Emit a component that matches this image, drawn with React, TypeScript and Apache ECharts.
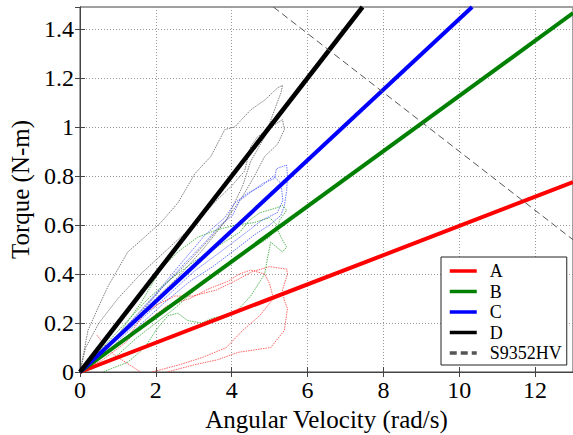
import React, { useEffect, useRef } from "react";
import * as echarts from "echarts";

// Axis settings
const xMin = 0;
const xMax = 13;
const xInterval = 2;
const yMin = 0;
const yMax = 1.49;
const yInterval = 0.2;

const legendNames = ["A", "B", "C", "D", "S9352HV"];

// Fitted lines
const lineA = [[0, 0], [13, 0.775]];
const lineB = [[0, 0], [13, 1.465]];
const lineC = [[0, 0], [10.34, 1.49]];
const lineD = [[0, 0], [7.45, 1.49]];
const lineServo = [[5.1, 1.49], [13, 0.54]];

// Measured (dotted) hysteresis traces
const loopD1 = [
  [0, 0], [0.1, 0.08], [0.21, 0.17], [0.5, 0.27], [0.74, 0.35], [1.0, 0.42], [1.26, 0.49],
  [1.7, 0.55], [2.13, 0.61], [2.58, 0.69], [3.03, 0.81], [3.45, 0.88], [3.82, 0.99],
  [4.08, 1.0], [4.5, 1.07], [4.87, 1.11], [5.21, 1.16], [5.34, 1.17], [5.3, 1.14], [5.2, 1.1],
  [4.87, 0.96], [4.5, 0.86], [4.29, 0.76], [3.86, 0.62], [3.24, 0.5], [2.6, 0.39], [2.0, 0.3],
  [1.4, 0.2], [0.8, 0.11], [0.3, 0.04], [0, 0],
];
const loopD2 = [
  [0, 0], [0.15, 0.1], [0.5, 0.2], [1.0, 0.3], [1.6, 0.4], [2.3, 0.5], [3.0, 0.6], [3.6, 0.7],
  [4.0, 0.76], [4.34, 0.82], [4.5, 0.92], [4.68, 0.96], [5.13, 1.01], [5.34, 1.03], [5.39, 0.99],
  [5.21, 0.93], [4.87, 0.88], [4.6, 0.8], [4.3, 0.72], [3.9, 0.63], [3.4, 0.54], [2.8, 0.44],
  [2.2, 0.35], [1.5, 0.23], [0.8, 0.12], [0, 0],
];
const loopC1 = [
  [0, 0], [0.5, 0.07], [1.0, 0.14], [1.6, 0.24], [2.2, 0.35], [2.8, 0.45], [3.3, 0.53], [3.7, 0.6],
  [4.03, 0.64], [4.21, 0.7], [4.47, 0.73], [4.82, 0.77], [5.13, 0.79], [5.18, 0.83], [5.45, 0.845],
  [5.47, 0.8], [5.45, 0.74], [5.39, 0.68], [5.3, 0.64], [5.0, 0.6], [4.6, 0.56], [4.1, 0.5],
  [3.5, 0.43], [2.9, 0.37], [2.2, 0.28], [1.5, 0.18], [0.8, 0.09], [0, 0],
];
const loopC2 = [
  [0, 0], [0.6, 0.08], [1.3, 0.2], [2.0, 0.32], [2.7, 0.45], [3.3, 0.56], [3.82, 0.63], [4.08, 0.69],
  [4.42, 0.73], [4.8, 0.76], [5.1, 0.8], [5.3, 0.77], [5.35, 0.7], [5.2, 0.65], [4.8, 0.62],
  [4.3, 0.56], [3.7, 0.49], [3.0, 0.41], [2.3, 0.31], [1.5, 0.2], [0.7, 0.08], [0, 0],
];
const loopB1 = [
  [0, 0], [0.6, 0.1], [1.2, 0.2], [1.8, 0.3], [2.4, 0.38], [3.0, 0.45], [3.6, 0.51], [4.21, 0.57],
  [4.47, 0.62], [4.74, 0.65], [5.18, 0.67], [5.34, 0.68], [5.45, 0.66], [5.26, 0.62], [5.21, 0.58],
  [5.3, 0.55], [5.45, 0.51], [5.34, 0.49], [5.03, 0.53], [4.95, 0.47], [4.87, 0.4], [4.5, 0.31],
  [4.08, 0.24], [3.5, 0.22], [3.2, 0.2], [2.84, 0.21], [2.58, 0.24], [2.32, 0.23], [2.0, 0.17],
  [1.71, 0.1], [1.26, 0.04], [0.6, 0],
];
const loopB2 = [
  [0, 0], [0.5, 0.06], [1.0, 0.15], [1.6, 0.28], [2.13, 0.42], [2.58, 0.49], [3.1, 0.55],
  [3.6, 0.58], [4.1, 0.6], [4.6, 0.61], [5.0, 0.63], [5.2, 0.6], [5.0, 0.55], [4.5, 0.5],
  [4.0, 0.45], [3.5, 0.4], [3.0, 0.33], [2.5, 0.26], [2.0, 0.2], [1.5, 0.14], [1.0, 0.07], [0.3, 0.01],
];
const loopA1 = [
  [0, 0], [0.4, 0.05], [0.9, 0.1], [1.3, 0.15], [1.7, 0.24], [2.1, 0.28], [2.5, 0.31], [2.97, 0.31],
  [3.6, 0.335], [4.13, 0.375], [4.55, 0.41], [5.0, 0.43], [5.45, 0.42], [5.47, 0.4], [5.34, 0.335],
  [5.39, 0.29], [5.47, 0.26], [5.39, 0.17], [5.03, 0.1], [4.16, 0.08], [3.63, 0.05], [3.03, 0.03],
  [2.3, 0],
];
const loopA2 = [
  [1.9, 0], [2.63, 0.03], [3.24, 0.06], [3.86, 0.1], [4.29, 0.17], [4.74, 0.23], [5.1, 0.3],
  [5.0, 0.36], [4.87, 0.4], [4.5, 0.416], [4.2, 0.4], [3.9, 0.37], [3.4, 0.34], [2.9, 0.3],
  [2.3, 0.27], [1.7, 0.2], [1.2, 0.12], [0.6, 0.05], [0, 0],
];
const loopA3 = [[0.45, 0.15], [0.6, 0.12], [0.9, 0.07], [1.2, 0.04], [1.5, 0.01], [1.6, 0]];

const FONT = "'Liberation Serif', 'Times New Roman', serif";

export default function App() {
  const ref = useRef<HTMLDivElement>(null);
  useEffect(() => {
    document.body.style.margin = "0";
    const chart = echarts.init(ref.current!, null, { renderer: "svg" });

    const loop = (name: string, data: number[][], color: string) => ({
      name,
      type: "line",
      data,
      symbol: "none",
      silent: true,
      lineStyle: { color, width: 0.9, type: [1.5, 1], opacity: 0.85 },
      z: 1,
    });
    const main = (name: string, data: number[][], color: string, width: number, type: any = "solid") => ({
      name,
      type: "line",
      data,
      symbol: "none",
      itemStyle: { color },
      lineStyle: { color, width, type },
      z: 5,
    });

    const baseX = { type: "value", min: xMin, max: xMax, interval: xInterval };
    const baseY = { type: "value", min: yMin, max: yMax, interval: yInterval };

    chart.setOption({
      animation: false,
      backgroundColor: "#fff",
      grid: {
        left: 80,
        top: 7,
        width: 493,
        height: 365,
        show: true,
        borderColor: "#444",
        borderWidth: 1,
        containLabel: false,
        outerBoundsMode: "none",
      },
      legend: {
        data: legendNames,
        orient: "vertical",
        left: 441,
        top: 257,
        backgroundColor: "#fff",
        borderColor: "#222",
        borderWidth: 1,
        borderRadius: 0,
        padding: [5, 5, 3, 7],
        itemWidth: 27,
        itemHeight: 14,
        itemGap: 2.5,
        itemStyle: { opacity: 0 },
        lineStyle: { width: 3.5 },
        textStyle: { fontFamily: FONT, fontSize: 18, lineHeight: 18, color: "#000", padding: [0, 0, 0, 8] },
      },
      xAxis: [
        {
          ...baseX,
          position: "bottom",
          name: "Angular Velocity (rad/s)",
          nameLocation: "middle",
          nameGap: 29,
          nameTextStyle: { fontFamily: FONT, fontSize: 25, color: "#000" },
          axisLine: { show: true, lineStyle: { color: "#444" } },
          axisTick: { show: true, inside: true, length: 5, lineStyle: { color: "#444" } },
          axisLabel: { fontFamily: FONT, fontSize: 24, color: "#000", margin: 6, showMaxLabel: false },
          splitLine: { show: true, lineStyle: { color: "#999", type: [1, 2], width: 1 } },
        },
        {
          ...baseX,
          position: "top",
          axisLine: { show: true, lineStyle: { color: "#444" } },
          axisTick: { show: true, inside: true, length: 5, lineStyle: { color: "#444" } },
          axisLabel: { show: false },
          splitLine: { show: false },
        },
      ],
      yAxis: [
        {
          ...baseY,
          position: "left",
          name: "Torque (N-m)",
          nameLocation: "middle",
          nameGap: 42,
          nameTextStyle: { fontFamily: FONT, fontSize: 25, color: "#000" },
          axisLine: { show: true, lineStyle: { color: "#444" } },
          axisTick: { show: true, inside: true, length: 5, lineStyle: { color: "#444" } },
          axisLabel: { fontFamily: FONT, fontSize: 24, color: "#000", margin: 6, showMaxLabel: false },
          splitLine: { show: true, lineStyle: { color: "#999", type: [1, 2], width: 1 } },
        },
        {
          ...baseY,
          position: "right",
          axisLine: { show: true, lineStyle: { color: "#444" } },
          axisTick: { show: true, inside: true, length: 5, lineStyle: { color: "#444" } },
          axisLabel: { show: false },
          splitLine: { show: false },
        },
      ],
      series: [
        loop("D loop 1", loopD1, "#555555"),
        loop("D loop 2", loopD2, "#555555"),
        loop("C loop 1", loopC1, "#3a4cff"),
        loop("C loop 2", loopC2, "#3a4cff"),
        loop("B loop 1", loopB1, "#22a022"),
        loop("B loop 2", loopB2, "#22a022"),
        loop("A loop 1", loopA1, "#ff3030"),
        loop("A loop 2", loopA2, "#ff3030"),
        loop("A loop 3", loopA3, "#ff3030"),
        main("A", lineA, "#ff0000", 4),
        main("B", lineB, "#008000", 4),
        main("C", lineC, "#0000ff", 4),
        main("D", lineD, "#000000", 4.5),
        main("S9352HV", lineServo, "#555555", 1, [7, 4]),
      ],
    });
    return () => chart.dispose();
  }, []);
  return <div ref={ref} style={{ width: 573, height: 435 }} />;
}
